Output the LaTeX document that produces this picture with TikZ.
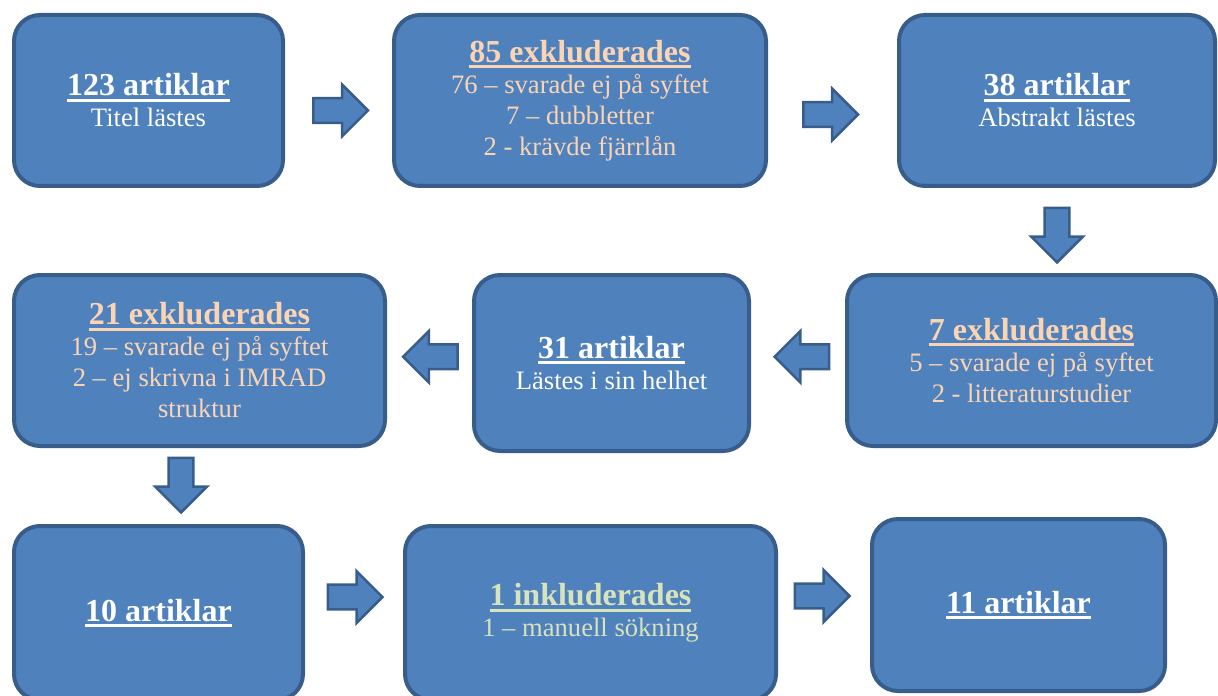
\documentclass[tikz,border=0pt]{standalone}
\usepackage{fontspec}
\setmainfont{Liberation Serif}
\usepackage{xcolor}
\usetikzlibrary{shapes.arrows,calc}
\definecolor{rutfyll}{HTML}{4F81BD}
\definecolor{rutkant}{HTML}{385D8A}
\definecolor{persika}{HTML}{FBD4B4}
\definecolor{ljusgron}{HTML}{D6E3BC}

\newcommand{\rubrik}[1]{\leavevmode{\fontsize{16}{15.5}\bfseries\setbox0\hbox{#1}\rlap{\rule[-3pt]{\wd0}{1.5pt}}\box0}}

\begin{document}
\begin{tikzpicture}[x=0.5pt, y=-0.5pt,
	ruta/.style={draw=rutkant, fill=rutfyll, line width=2pt, rounded corners=13pt, align=center, text=white, font=\fontsize{13.3}{15.5}\selectfont, inner sep=0pt},
	pil/.style={single arrow, draw=rutkant, fill=rutfyll, line width=1.25pt, minimum height=27.25pt, single arrow head extend=6.75pt, inner xsep=0pt, inner ysep=5.6pt}]
	\useasboundingbox (0,0) rectangle (1218,695);
	% rad 1
	\node[ruta, minimum width=134.5pt, minimum height=85.5pt] (a) at (148.5,100.5) {\rubrik{123 artiklar}\\Titel lästes};
	\node[ruta, text=persika, minimum width=186pt, minimum height=85.5pt] (b) at (580,100.5) {\rubrik{85 exkluderades}\\76 – svarade ej på syftet\\7 – dubbletter\\2 - krävde fjärrlån};
	\node[ruta, minimum width=158pt, minimum height=85.5pt] (c) at (1057,100.5) {\rubrik{38 artiklar}\\Abstrakt lästes};
	% rad 2
	\node[ruta, text=persika, minimum width=185.5pt, minimum height=85.5pt] (d) at (199.5,360.5) {\rubrik{21 exkluderades}\\19 – svarade ej på syftet\\2 – ej skrivna i IMRAD\\struktur};
	\node[ruta, minimum width=137.5pt, minimum height=88pt] (e) at (611.5,363) {\rubrik{31 artiklar}\\Lästes i sin helhet};
	\node[ruta, text=persika, minimum width=184.5pt, minimum height=85.5pt] (f) at (1031.5,360.5) {\rubrik{7 exkluderades}\\5 – svarade ej på syftet\\2 - litteraturstudier};
	% rad 3
	\node[ruta, minimum width=144.5pt, minimum height=87pt] (g) at (158.5,613) {\rubrik{10 artiklar}};
	\node[ruta, text=ljusgron, minimum width=185.5pt, minimum height=87pt] (h) at (590.5,613) {\rubrik{1 inkluderades}\\1 – manuell sökning};
	\node[ruta, minimum width=146.5pt, minimum height=86pt] (i) at (1018.5,605) {\rubrik{11 artiklar}};
	% pilar
	\node[pil] (ab) at ($(a.east)!.5!(b.west)+(-4,10)$) {};
	\node[pil] (bc) at ($(b.east)!.5!(c.west)+(-8,14)$) {};
	\node[pil, rotate=-90] (cf) at ($(c.south)+(0,41)$) {};
	\node[pil, rotate=180] (fe) at ($(f.west)!.5!(e.east)+(10,-5)$) {};
	\node[pil, rotate=180] (ed) at ($(e.west)!.5!(d.east)+(7,-5)$) {};
	\node[pil, rotate=-90] (dg) at ($(d.south)!.5!(g.north)+(2,-7)$) {};
	\node[pil] (gh) at ($(g.east)!.5!(h.west)+(-5,-16)$) {};
	\node[pil] (hi) at ($(h.east)!.5!(i.west)+(-8,-13)$) {};
\end{tikzpicture}
\end{document}
